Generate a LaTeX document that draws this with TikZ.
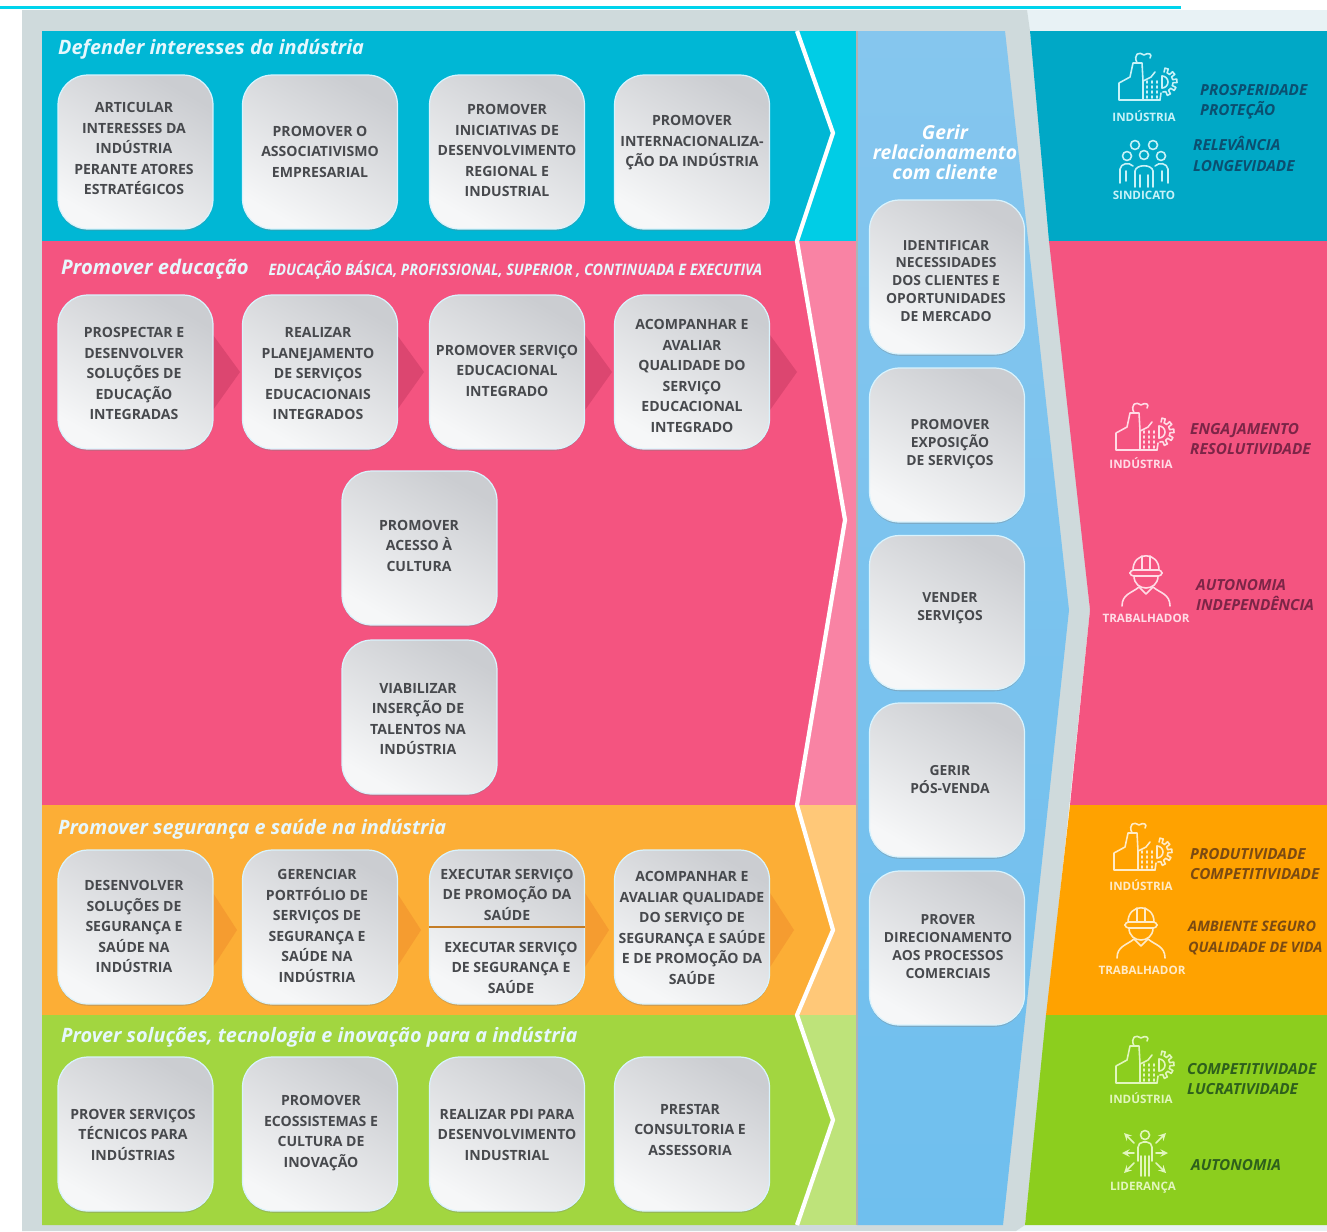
\documentclass[tikz,border=0pt]{standalone}
\usepackage{fontspec}
\setmainfont{Open Sans}
\usetikzlibrary{shadows}

\definecolor{cyanmain}{HTML}{00B7D5}
\definecolor{cyanlight}{HTML}{00CDE6}
\definecolor{cyanpanel}{HTML}{00A8C6}
\definecolor{cyanicon}{HTML}{C8F2F8}
\definecolor{cyandark}{HTML}{0B4F70}
\definecolor{pinkmain}{HTML}{F45480}
\definecolor{pinklight}{HTML}{F983A4}
\definecolor{pinkarrow}{HTML}{DC4670}
\definecolor{pinkicon}{HTML}{FFDCE6}
\definecolor{pinkdark}{HTML}{7C2547}
\definecolor{orangemain}{HTML}{FCAE36}
\definecolor{orangelight}{HTML}{FFC878}
\definecolor{orangepanel}{HTML}{FFA200}
\definecolor{orangearrow}{HTML}{F59C30}
\definecolor{orangeicon}{HTML}{FFEBC8}
\definecolor{orangedark}{HTML}{7A4A12}
\definecolor{greenmain}{HTML}{A2D640}
\definecolor{greenlight}{HTML}{BEE37A}
\definecolor{greenpanel}{HTML}{8CCE1E}
\definecolor{greenicon}{HTML}{E2F6BE}
\definecolor{greendark}{HTML}{2E601C}
\definecolor{framegrey}{HTML}{CFDADC}
\definecolor{framepale}{HTML}{E8F2F5}
\definecolor{topline}{HTML}{00D4EC}
\definecolor{cardtext}{HTML}{47494D}
\definecolor{bluetop}{HTML}{85C6EE}
\definecolor{bluelow}{HTML}{6FBFEE}
\definecolor{cardgrey}{HTML}{CBCDD1}
\definecolor{cardwhite}{HTML}{F6F7F8}

\tikzset{
  card/.style={rounded corners=.6cm, minimum width=3.1cm, minimum height=3.08cm, inner sep=0pt,
    draw=white!85!cyan, line width=.7pt, top color=cardgrey, bottom color=cardwhite, shading angle=-30,
    drop shadow={shadow xshift=0pt, shadow yshift=-1pt, opacity=.35}},
  cardtxt/.style={align=center, text=cardtext, yshift=-.5pt, font=\fontsize{8}{11.65}\selectfont\bfseries},
  cardtxtb/.style={cardtxt, font=\fontsize{7.9}{10.2}\selectfont\bfseries},
  heading/.style={anchor=west, text=white!90!cyan, yshift=-1.4pt, font=\fontsize{11.3}{13}\selectfont\bfseries\itshape},
  iconline/.style={line width=.9pt, line join=round, line cap=round},
  iconlabel/.style={font=\fontsize{6.6}{7}\selectfont\bfseries},
  gain/.style={anchor=west, align=left, font=\fontsize{8.7}{11.7}\selectfont\bfseries\itshape},
  factory/.pic={
    \draw[pic actions] (13,22) -- (-28,22) -- (-28,5) -- (-17,-1) -- (-14,-15) -- (-5,-15) -- (-4,3);
    \draw[pic actions] (-4,22) -- (-4,3) -- (4,-1) -- (8,-6);
    \draw[pic actions] (-10,-15) .. controls (-14,-24) and (-8,-27) .. (-3,-23) .. controls (1,-26) and (6,-24) .. (3,-20);
    \foreach \x in {0,5,10} \foreach \y in {3,8,13,18} \draw[pic actions] (\x,\y) -- (\x,\y+2);
    \begin{scope}[shift={(16,4)}]
      \foreach \a in {-75,-40,-5,30,65} \draw[pic actions] (\a-9:10) -- (\a-7:14) -- (\a+7:14) -- (\a+9:10) -- (\a+26:10);
    \end{scope}
    \draw[pic actions] (15,-2) arc[start angle=-90, end angle=90, radius=6];
    \draw[pic actions] (15,-2) -- (15,10);
    \draw[pic actions] (14,15) -- (13,22);
  },
  union/.pic={
    \foreach \x/\y in {-9/-18, 9/-18, -17/-7, 0/-8, 17/-7} \draw[pic actions] (\x,\y) circle[radius=4.5];
    \draw[pic actions] (-9,24) -- (-9,8) .. controls (-8,1) and (8,1) .. (9,8) -- (9,24);
    \draw[pic actions] (-4,24) -- (-4,12);
    \draw[pic actions] (4,24) -- (4,12);
    \draw[pic actions] (-24,20) -- (-24,6) .. controls (-23,0) and (-15,-1) .. (-11,3);
    \draw[pic actions] (24,20) -- (24,6) .. controls (23,0) and (15,-1) .. (11,3);
    \draw[pic actions] (-18,18) -- (-18,8);
    \draw[pic actions] (18,18) -- (18,8);
  },
  worker/.pic={
    \draw[pic actions] (-13,-11) .. controls (-13,-30) and (13,-30) .. (13,-11);
    \draw[pic actions, rounded corners=2] (-16,-11) rectangle (16,-5);
    \draw[pic actions] (-4,-25) -- (-4,-11);
    \draw[pic actions] (4,-25) -- (4,-11);
    \draw[pic actions] (-12,-5) .. controls (-12,11) and (12,11) .. (12,-5);
    \draw[pic actions] (-24,25) .. controls (-24,13) and (-14,12) .. (-7,6) -- (0,13) -- (7,6) .. controls (14,12) and (24,13) .. (24,25);
  },
  leader/.pic={
    \draw[pic actions] (0,-18) circle[radius=4.5];
    \draw[pic actions, rounded corners=3] (-7,8) -- (-7,-11) -- (7,-11) -- (7,8);
    \foreach \x in {-4,0,4} \draw[pic actions] (\x,3) -- (\x,23);
    \foreach \x/\y/\u/\v in {-11/0/-23/0, 11/0/23/0, -11/-10/-21/-20, 11/-10/21/-20, -11/10/-21/20, 11/10/21/20}
      \draw[pic actions, -stealth] (\x,\y) -- (\u,\v);
  }
}

\begin{document}
\begin{tikzpicture}[x=.02cm, y=-.02cm]
\useasboundingbox (0,0) rectangle (1327,1231);
\fill[white] (0,0) rectangle (1327,1231);

\fill[framepale] (1000,10) rectangle (1327,31);
\fill[framepale] (22,1225) rectangle (1327,1231);
\fill[framegrey] (22,10) -- (1027,10) -- (1030,31) -- (1090,610) -- (1025,1225) -- (1016,1231) -- (22,1231) -- cycle;
\draw[topline, line width=1.6pt] (0,7.2) -- (1181,7.2);

\fill[cyanlight] (42,31) rectangle (857,241);
\fill[pinklight] (42,241) rectangle (857,805);
\fill[orangelight] (42,805) rectangle (857,1015);
\fill[greenlight] (42,1015) rectangle (857,1225);
\fill[cyanmain] (42,31) -- (797,31) -- (833,133) -- (797,241) -- (42,241) -- cycle;
\fill[pinkmain] (42,241) -- (797,241) -- (845,520) -- (797,805) -- (42,805) -- cycle;
\fill[orangemain] (42,805) -- (797,805) -- (833,930) -- (797,1015) -- (42,1015) -- cycle;
\fill[greenmain] (42,1015) -- (797,1015) -- (833,1120) -- (797,1225) -- (42,1225) -- cycle;
\draw[white, line width=2.4pt] (797,31) -- (833,133) -- (797,241) -- (845,520) -- (797,805) -- (833,930) -- (797,1015) -- (833,1120) -- (797,1225);

\shade[top color=bluetop, bottom color=bluelow] (857,31) -- (1005,31) -- (1069,610) -- (1003,1225) -- (857,1225) -- cycle;
\draw[white!70!black, line width=.6pt] (857,31) -- (857,1225);

\fill[cyanpanel] (1030,31) -- (1327,31) -- (1327,241) -- (1049,241) -- cycle;
\fill[pinkmain] (1049,241) -- (1327,241) -- (1327,805) -- (1070,805) -- (1090,610) -- cycle;
\fill[orangepanel] (1070,805) -- (1327,805) -- (1327,1015) -- (1046,1015) -- cycle;
\fill[greenpanel] (1046,1015) -- (1327,1015) -- (1327,1225) -- (1025,1225) -- cycle;

\foreach \x in {213,397,585,770} \fill[pinkarrow] (\x,335) -- (\x+27,372) -- (\x,410) -- cycle;
\foreach \x in {213,397,585,770} \fill[orangearrow] (\x,893) -- (\x+24,930) -- (\x,967) -- cycle;

\node[heading] (hd) at (52,47) {Defender interesses da indústria};
\node[heading, font=\fontsize{11.5}{14}\selectfont\bfseries\itshape] (he) at (55,267) {Promover educação};
\node[heading, font=\fontsize{9}{11}\selectfont\bfseries\itshape, xscale=.91] (hf) at (263,268) {EDUCAÇÃO BÁSICA, PROFISSIONAL, SUPERIOR , CONTINUADA E EXECUTIVA};
\node[heading] (hs) at (52,827) {Promover segurança e saúde na indústria};
\node[heading] (hp) at (55,1035) {Prover soluções, tecnologia e inovação para a indústria};
\node[align=center, text=white, font=\fontsize{11}{11.4}\selectfont\itshape\bfseries] (hg) at (945,152) {Gerir\\relacionamento\\com cliente};

\node[card] (a1) at (135.5,152) {};
\node[card] (a2) at (320,152) {};
\node[card] (a3) at (507,152) {};
\node[card] (a4) at (692,152) {};
\node[cardtxt] (a1t) at (134,148) {ARTICULAR\\INTERESSES DA\\INDÚSTRIA\\PERANTE ATORES\\ESTRATÉGICOS};
\node[cardtxt] (a2t) at (320,151) {PROMOVER O\\ASSOCIATIVISMO\\EMPRESARIAL};
\node[cardtxt] (a3t) at (507,150) {PROMOVER\\INICIATIVAS DE\\DESENVOLVIMENTO\\REGIONAL E\\INDUSTRIAL};
\node[cardtxt] (a4t) at (692,142) {PROMOVER\\INTERNACIONALIZA-\\ÇÃO DA INDÚSTRIA};

\node[card] (b1) at (135.5,372) {};
\node[card] (b2) at (320,372) {};
\node[card] (b3) at (507,372) {};
\node[card] (b4) at (692,372) {};
\node[cardtxt] (b1t) at (134,373) {PROSPECTAR E\\DESENVOLVER\\SOLUÇÕES DE\\EDUCAÇÃO\\INTEGRADAS};
\node[cardtxt] (b2t) at (318,373) {REALIZAR\\PLANEJAMENTO\\DE SERVIÇOS\\EDUCACIONAIS\\INTEGRADOS};
\node[cardtxt] (b3t) at (507,370) {PROMOVER SERVIÇO\\EDUCACIONAL\\INTEGRADO};
\node[cardtxt] (b4t) at (692,375) {ACOMPANHAR E\\AVALIAR\\QUALIDADE DO\\SERVIÇO\\EDUCACIONAL\\INTEGRADO};

\node[card] (c1) at (419.5,548) {};
\node[card] (c2) at (419.5,717) {};
\node[cardtxt] (c1t) at (419,545) {PROMOVER\\ACESSO À\\CULTURA};
\node[cardtxt] (c2t) at (418,718) {VIABILIZAR\\INSERÇÃO DE\\TALENTOS NA\\INDÚSTRIA};

\node[card] (d1) at (135.5,927) {};
\node[card] (d2) at (320,927) {};
\node[card] (d3) at (507,927) {};
\node[card] (d4) at (692,927) {};
\draw[orangearrow!80!black, line width=1.6pt] (d3.west) -- (d3.east);
\node[cardtxt] (d1t) at (134,926) {DESENVOLVER\\SOLUÇÕES DE\\SEGURANÇA E\\SAÚDE NA\\INDÚSTRIA};
\node[cardtxt] (d2t) at (317,925) {GERENCIAR\\PORTFÓLIO DE\\SERVIÇOS DE\\SEGURANÇA E\\SAÚDE NA\\INDÚSTRIA};
\node[cardtxt] (d3t) at (507,894) {EXECUTAR SERVIÇO\\DE PROMOÇÃO DA\\SAÚDE};
\node[cardtxt] (d3u) at (511,967) {EXECUTAR SERVIÇO\\DE SEGURANÇA E\\SAÚDE};
\node[cardtxt] (d4t) at (692,927) {ACOMPANHAR E\\AVALIAR QUALIDADE\\DO SERVIÇO DE\\SEGURANÇA E SAÚDE\\E DE PROMOÇÃO DA\\SAÚDE};

\node[card] (e1) at (135.5,1134) {};
\node[card] (e2) at (320,1134) {};
\node[card] (e3) at (507,1134) {};
\node[card] (e4) at (692,1134) {};
\node[cardtxt] (e1t) at (133,1134) {PROVER SERVIÇOS\\TÉCNICOS PARA\\INDÚSTRIAS};
\node[cardtxt] (e2t) at (321,1132) {PROMOVER\\ECOSSISTEMAS E\\CULTURA DE\\INOVAÇÃO};
\node[cardtxt] (e3t) at (507,1134) {REALIZAR PDI PARA\\DESENVOLVIMENTO\\INDUSTRIAL};
\node[cardtxt] (e4t) at (690,1129) {PRESTAR\\CONSULTORIA E\\ASSESSORIA};

\node[card] (f1) at (947,277) {};
\node[card] (f2) at (947,445) {};
\node[card] (f3) at (947,612.5) {};
\node[card] (f4) at (947,780) {};
\node[card] (f5) at (947,948) {};
\node[cardtxtb] (f1t) at (946,280) {IDENTIFICAR\\NECESSIDADES\\DOS CLIENTES E\\OPORTUNIDADES\\DE MERCADO};
\node[cardtxtb] (f2t) at (950,443) {PROMOVER\\EXPOSIÇÃO\\DE SERVIÇOS};
\node[cardtxtb] (f3t) at (950,607) {VENDER\\SERVIÇOS};
\node[cardtxtb] (f4t) at (950,779) {GERIR\\PÓS-VENDA};
\node[cardtxtb] (f5t) at (948,946) {PROVER\\DIRECIONAMENTO\\AOS PROCESSOS\\COMERCIAIS};

\pic[iconline, draw=cyanicon] at (1147,78) {factory};
\pic[iconline, draw=cyanicon] at (1144,163) {union};
\node[iconlabel, text=cyanicon] (g1) at (1144,116) {INDÚSTRIA};
\node[iconlabel, text=cyanicon] (g2) at (1144,195) {SINDICATO};
\node[gain, text=cyandark] (g3) at (1194,102) {PROSPERIDADE\\PROTEÇÃO};
\node[gain, text=cyandark] (g4) at (1187,154) {RELEVÂNCIA\\LONGEVIDADE};

\pic[iconline, draw=pinkicon] at (1144,428) {factory};
\pic[iconline, draw=pinkicon] at (1146,581) {worker};
\node[iconlabel, text=pinkicon] (h1) at (1141,463) {INDÚSTRIA};
\node[iconlabel, text=pinkicon] (h2) at (1146,618) {TRABALHADOR};
\node[gain, text=pinkdark] (h3) at (1184,439) {ENGAJAMENTO\\RESOLUTIVIDADE};
\node[gain, text=pinkdark] (h4) at (1190,595) {AUTONOMIA\\INDEPENDÊNCIA};

\pic[iconline, draw=orangeicon] at (1142,848) {factory};
\pic[iconline, draw=orangeicon] at (1141,933) {worker};
\node[iconlabel, text=orangeicon] (k1) at (1141,885) {INDÚSTRIA};
\node[iconlabel, text=orangeicon] (k2) at (1142,970) {TRABALHADOR};
\node[gain, text=orangedark] (k3) at (1184,864) {PRODUTIVIDADE\\COMPETITIVIDADE};
\node[gain, text=orangedark, font=\fontsize{8.2}{11.7}\selectfont\bfseries\itshape] (k4) at (1182,938) {AMBIENTE SEGURO\\QUALIDADE DE VIDA};

\pic[iconline, draw=greenicon] at (1144,1061) {factory};
\pic[iconline, draw=greenicon] at (1145,1153) {leader};
\node[iconlabel, text=greenicon] (m1) at (1141,1098) {INDÚSTRIA};
\node[iconlabel, text=greenicon] (m2) at (1143,1188) {LIDERANÇA};
\node[gain, text=greendark] (m3) at (1181,1079) {COMPETITIVIDADE\\LUCRATIVIDADE};
\node[gain, text=greendark] (m4) at (1185,1165) {AUTONOMIA};
\end{tikzpicture}
\end{document}
